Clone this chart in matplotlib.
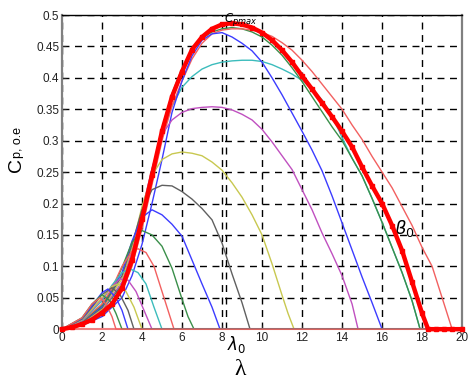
import matplotlib.pyplot as plt

# Cp(lambda) family, values
lam_opt = [0, 0.5, 1, 1.5, 2, 2.5, 3, 3.5, 4, 4.5, 5, 5.5, 6, 6.5, 7, 7.5, 8, 8.5, 9, 9.5,
           10, 10.5, 11, 11.5, 12, 12.5, 13, 13.5, 14, 14.5, 15, 15.5, 16, 16.5, 17, 17.5,
           18, 18.3, 18.7, 19.1, 19.5, 20]
cp_opt = [0, 0.003, 0.008, 0.015, 0.026, 0.04, 0.065, 0.11, 0.175, 0.245, 0.315, 0.37, 0.41,
          0.445, 0.465, 0.478, 0.485, 0.487, 0.485, 0.48, 0.472, 0.46, 0.444, 0.425, 0.403,
          0.382, 0.36, 0.338, 0.315, 0.29, 0.258, 0.228, 0.2, 0.165, 0.125, 0.075, 0.025,
          0, 0, 0, 0, 0]

lam_r1 = [0, 1, 2, 3, 3.5, 4, 4.5, 5, 5.5, 6, 6.5, 7, 7.5, 8, 8.5, 9, 9.5, 10, 10.5, 11, 11.5,
          12, 12.5, 13, 13.5, 14, 14.5, 15, 15.5, 16, 16.5, 17, 17.5, 18, 18.5, 19, 19.5, 20]
cp_r1 = [0, 0.007, 0.024, 0.06, 0.1, 0.16, 0.23, 0.3, 0.355, 0.395, 0.43, 0.455, 0.47, 0.476,
         0.478, 0.478, 0.476, 0.472, 0.466, 0.456, 0.444, 0.428, 0.41, 0.39, 0.37, 0.35, 0.325,
         0.302, 0.275, 0.25, 0.225, 0.195, 0.165, 0.13, 0.1, 0.05, 0, 0]

lam_g1 = [0, 1, 2, 3, 3.5, 4, 4.5, 5, 5.5, 6, 6.5, 7, 7.5, 8, 8.5, 9, 9.5, 10, 10.5, 11, 11.5,
          12, 12.5, 13, 13.5, 14, 14.5, 15, 15.5, 16, 16.5, 17, 17.5, 17.9, 20]
cp_g1 = [0, 0.01, 0.03, 0.07, 0.115, 0.18, 0.25, 0.32, 0.375, 0.415, 0.445, 0.463, 0.473, 0.478,
         0.48, 0.478, 0.473, 0.465, 0.452, 0.436, 0.416, 0.394, 0.37, 0.346, 0.322, 0.3, 0.272,
         0.244, 0.208, 0.17, 0.13, 0.09, 0.045, 0, 0]

lam_c1 = [0, 1, 2, 3, 3.5, 4, 4.5, 5, 5.5, 6, 6.5, 7, 7.5, 8, 8.5, 9, 9.5, 10, 10.5, 11, 11.5,
          12, 12.5, 13, 13.5, 14, 14.5, 15, 15.5, 16, 16.5, 17, 17.5, 17.9, 20]
cp_c1 = [0, 0.01, 0.03, 0.072, 0.12, 0.185, 0.255, 0.31, 0.355, 0.385, 0.402, 0.414, 0.421,
         0.425, 0.427, 0.428, 0.428, 0.426, 0.421, 0.414, 0.406, 0.396, 0.382, 0.365, 0.34,
         0.305, 0.272, 0.244, 0.208, 0.17, 0.13, 0.09, 0.045, 0, 0]

lam_b1 = [0, 1, 2, 3, 3.5, 4, 4.5, 5, 5.5, 6, 6.5, 7, 7.5, 8, 8.5, 9, 9.5, 10, 10.5, 11, 11.5,
          12, 12.5, 13, 13.5, 14, 14.5, 15, 15.5, 16, 20]
cp_b1 = [0, 0.006, 0.02, 0.05, 0.085, 0.135, 0.2, 0.27, 0.345, 0.395, 0.435, 0.46, 0.47, 0.472,
         0.465, 0.455, 0.443, 0.425, 0.4, 0.373, 0.344, 0.315, 0.285, 0.252, 0.212, 0.169,
         0.126, 0.083, 0.042, 0, 0]

lam_m1 = [0, 1, 2, 3, 3.5, 4, 4.5, 5, 5.5, 6, 6.5, 7, 7.5, 8, 8.5, 9, 9.5, 10, 10.5, 11, 11.5,
          12, 12.5, 13, 13.5, 14, 14.5, 14.8, 20]
cp_m1 = [0, 0.01, 0.03, 0.075, 0.125, 0.19, 0.255, 0.31, 0.333, 0.345, 0.351, 0.353, 0.354,
         0.353, 0.349, 0.342, 0.333, 0.318, 0.298, 0.276, 0.254, 0.222, 0.19, 0.153, 0.12,
         0.085, 0.04, 0, 0]

lam_y1 = [0, 1, 2, 3, 3.5, 4, 4.5, 5, 5.5, 6, 6.5, 7, 7.5, 8, 8.5, 9, 9.5, 10, 10.5, 11, 11.3,
          11.6, 20]
cp_y1 = [0, 0.01, 0.032, 0.08, 0.13, 0.195, 0.245, 0.27, 0.279, 0.282, 0.28, 0.276, 0.266,
         0.253, 0.233, 0.21, 0.182, 0.15, 0.104, 0.054, 0.025, 0, 0]

lam_k1 = [0, 1, 2, 3, 3.5, 4, 4.5, 5, 5.5, 6, 6.5, 7, 7.5, 8, 8.5, 9, 9.4, 20]
cp_k1 = [0, 0.011, 0.034, 0.085, 0.135, 0.19, 0.222, 0.229, 0.228, 0.219, 0.207, 0.192, 0.174,
         0.137, 0.088, 0.042, 0, 0]

lam_b2 = [0, 1, 2, 3, 3.5, 4, 4.5, 5, 5.5, 6, 6.5, 7, 7.5, 7.9, 20]
cp_b2 = [0, 0.012, 0.036, 0.09, 0.14, 0.178, 0.19, 0.182, 0.167, 0.148, 0.11, 0.072, 0.035, 0, 0]

lam_g2 = [0, 1, 2, 2.5, 3, 3.5, 4, 4.5, 5, 5.5, 6, 6.3, 6.6, 20]
cp_g2 = [0, 0.012, 0.038, 0.062, 0.098, 0.138, 0.157, 0.15, 0.132, 0.097, 0.048, 0.02, 0, 0]

lam_r2 = [0, 1, 2, 2.5, 3, 3.5, 3.8, 4.2, 4.6, 5.1, 5.4, 5.6, 20]
cp_r2 = [0, 0.013, 0.04, 0.065, 0.1, 0.124, 0.128, 0.122, 0.1, 0.05, 0.02, 0, 0]

lam_c2 = [0, 1, 2, 2.5, 3, 3.4, 3.8, 4.2, 4.6, 5.0, 20]
cp_c2 = [0, 0.013, 0.045, 0.07, 0.09, 0.096, 0.09, 0.072, 0.035, 0, 0]

lam_m2 = [0, 1, 2, 2.5, 2.9, 3.3, 3.7, 4.1, 4.5, 20]
cp_m2 = [0, 0.014, 0.048, 0.068, 0.08, 0.078, 0.06, 0.03, 0, 0]

lam_y2 = [0, 1, 1.5, 2, 2.5, 2.8, 3.2, 3.6, 4.0, 20]
cp_y2 = [0, 0.015, 0.032, 0.05, 0.068, 0.072, 0.06, 0.035, 0, 0]

lam_k2 = [0, 1, 1.5, 2, 2.5, 2.9, 3.3, 3.6, 20]
cp_k2 = [0, 0.016, 0.035, 0.055, 0.066, 0.055, 0.03, 0, 0]

lam_b3 = [0, 1, 1.5, 2, 2.3, 2.7, 3.0, 3.3, 20]
cp_b3 = [0, 0.017, 0.037, 0.058, 0.064, 0.05, 0.03, 0, 0]

lam_g3 = [0, 1, 1.5, 2, 2.4, 2.7, 3.0, 20]
cp_g3 = [0, 0.018, 0.04, 0.055, 0.045, 0.025, 0, 0]

lam_r3 = [0, 1, 1.5, 1.9, 2.2, 2.5, 2.7, 20]
cp_r3 = [0, 0.018, 0.04, 0.05, 0.04, 0.02, 0, 0]

lambda0 = 8.2
cp_max = 0.487
x_ticks = list(range(0, 21, 2))
y_ticks = [0, 0.05, 0.1, 0.15, 0.2, 0.25, 0.3, 0.35, 0.4, 0.45, 0.5]
y_tick_labels = ['0', '0.05', '0.1', '0.15', '0.2', '0.25', '0.3', '0.35', '0.4', '0.45', '0.5']

B = '#3c3cff'
G = '#3a8f4a'
R = '#f26060'
C = '#3cbcbc'
M = '#c050c0'
Y = '#c8c850'
K = '#606060'

# big curves first, small ones on top, thin red last so the zero line is reddish
curves = [
    (lam_c1, cp_c1, C), (lam_g1, cp_g1, G), (lam_r1, cp_r1, R), (lam_b1, cp_b1, B),
    (lam_m1, cp_m1, M), (lam_y1, cp_y1, Y), (lam_k1, cp_k1, K), (lam_b2, cp_b2, B),
    (lam_g2, cp_g2, G), (lam_r2, cp_r2, R), (lam_c2, cp_c2, C), (lam_m2, cp_m2, M),
    (lam_y2, cp_y2, Y), (lam_k2, cp_k2, K), (lam_b3, cp_b3, B), (lam_g3, cp_g3, G),
    (lam_r3, cp_r3, R),
]

plt.rcParams['font.family'] = ['Liberation Sans', 'DejaVu Sans']

fig = plt.figure(figsize=(4.73, 3.85), dpi=100)
ax = fig.add_axes([0.131, 0.145, 0.846, 0.816])

for lx, ly, col in curves:
    ax.plot(lx, ly, color=col, lw=1.0, clip_on=False, zorder=3)

ax.plot(lam_opt, cp_opt, color='#ff0000', lw=3.2, marker='s', ms=3, mec='#ff0000',
        clip_on=False, zorder=4)

ax.set_xlim(0, 20)
ax.set_ylim(0, 0.5)
ax.set_xticks(x_ticks)
ax.set_yticks(y_ticks)
ax.set_yticklabels(y_tick_labels)
ax.tick_params(direction='in', length=3, labelsize=8.5, colors='#222222', pad=2)
ax.grid(True, color='black', linestyle=(0, (5, 4)), lw=1.0, zorder=1)
ax.axvline(lambda0, color='black', linestyle=(0, (5, 4)), lw=1.0, zorder=1)

for s in ['left', 'right']:
    ax.spines[s].set_color('#808080')
    ax.spines[s].set_linewidth(1.6)
ax.spines['top'].set_linewidth(1.0)
ax.spines['bottom'].set_color('#f08080')
ax.spines['bottom'].set_linewidth(1.5)

ax.text(lambda0 - 0.1, cp_max + 0.006, r'$C_{pmax}$', fontsize=8.5, ha='left', va='center',
        zorder=5)
ax.text(lambda0 + 0.05, -0.008, r'$\lambda_0$', fontsize=12, ha='left', va='top')
ax.text(16.6, 0.16, r'$\beta_0$', fontsize=13, ha='left', va='center')

fig.text(0.508, 0.012, 'λ', fontsize=17, family='Liberation Serif', ha='center', va='bottom')
fig.text(0.045, 0.553, 'C', fontsize=14, rotation=90, rotation_mode='anchor',
         ha='left', va='baseline')
fig.text(0.045, 0.590, 'p, o.e', fontsize=9, rotation=90, rotation_mode='anchor',
         ha='left', va='baseline')

fig.savefig('out.png', dpi=100)
